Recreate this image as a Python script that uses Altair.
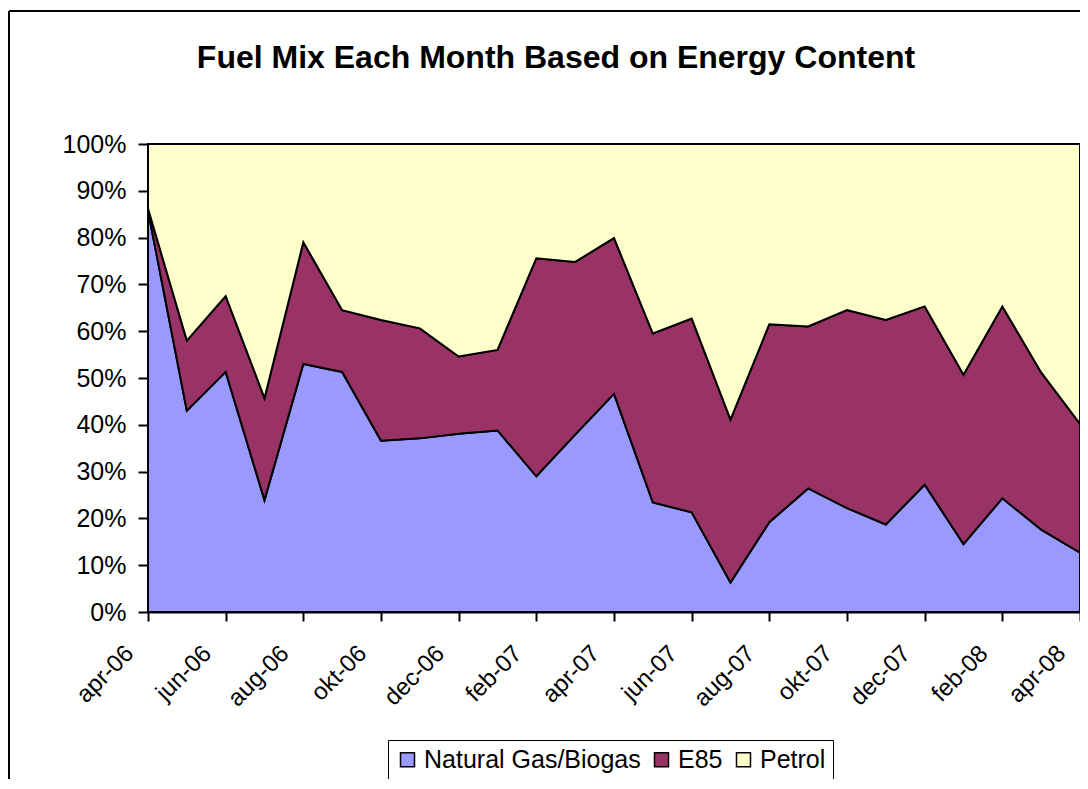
import altair as alt
import pandas as pd

months = ["apr-06", "maj-06", "jun-06", "jul-06", "aug-06", "sep-06", "okt-06", "nov-06",
          "dec-06", "jan-07", "feb-07", "mar-07", "apr-07", "maj-07", "jun-07", "jul-07",
          "aug-07", "sep-07", "okt-07", "nov-07", "dec-07", "jan-08", "feb-08", "mar-08",
          "apr-08"]
natural_gas = [85.8, 43.0, 51.3, 23.9, 53.0, 51.3, 36.6, 37.1, 38.1, 38.8, 29.0, 37.9, 46.6,
               23.4, 21.3, 6.3, 19.2, 26.4, 22.2, 18.7, 27.2, 14.5, 24.3, 17.6, 12.7]
e85 = [0.4, 15.0, 16.2, 21.8, 26.0, 13.2, 25.8, 23.5, 16.5, 17.2, 46.6, 36.9, 33.3,
       36.1, 41.4, 34.8, 42.3, 34.6, 42.3, 43.7, 38.1, 36.2, 41.0, 33.6, 27.5]
petrol = [13.8, 42.0, 32.5, 54.3, 21.0, 35.5, 37.6, 39.4, 45.4, 44.0, 24.4, 25.2, 20.1,
          40.5, 37.3, 58.9, 38.5, 39.0, 35.5, 37.6, 34.7, 49.3, 34.7, 48.8, 59.8]
series = ["Natural Gas/Biogas", "E85", "Petrol"]
colors = ["#9999FF", "#993366", "#FFFFCC"]
tick_months = months[::2]

rows = []
for i, m in enumerate(months):
    for k, (name, vals) in enumerate(zip(series, [natural_gas, e85, petrol])):
        rows.append({"month": m, "fuel": name, "share": vals[i] / 100.0, "order": k})
df = pd.DataFrame(rows)

FONT = "Liberation Sans"
W, H = 932, 468

area = alt.Chart(df).mark_area(stroke="black", strokeWidth=2, strokeJoin="miter").encode(
    x=alt.X("month:O", sort=months, scale=alt.Scale(type="point", padding=0),
            axis=alt.Axis(values=tick_months, title=None, labelAngle=-45, labelFontSize=24,
                          labelFont=FONT, labelColor="black", tickColor="black", tickSize=9,
                          tickWidth=2, domainColor="black", domainWidth=2, labelPadding=20,
                          labelOffset=-27, grid=False)),
    y=alt.Y("share:Q", stack="zero", scale=alt.Scale(domain=[0, 1], nice=False),
            axis=alt.Axis(format="%", values=[i / 10 for i in range(11)], title=None,
                          labelFontSize=25, labelFont=FONT, labelColor="black",
                          tickColor="black", tickSize=10, tickWidth=2, domainColor="black",
                          domainWidth=2, labelPadding=12, grid=False)),
    color=alt.Color("fuel:N", sort=series, scale=alt.Scale(domain=series, range=colors),
                    legend=alt.Legend(title=None, orient="none", legendX=240, legendY=596,
                                      direction="horizontal", symbolType="square",
                                      symbolSize=196, symbolStrokeColor="black",
                                      symbolStrokeWidth=1.5, labelFontSize=25, labelFont=FONT,
                                      labelColor="black", labelLimit=0, strokeColor="black",
                                      fillColor="white", padding=7, columnPadding=8,
                                      labelOffset=4)),
    order=alt.Order("order:Q"),
)

frame_left = alt.Chart(df).mark_rule(color="black", strokeWidth=2).encode(
    x=alt.value(-139), y=alt.value(-133), y2=alt.value(H + 200))
frame_top = alt.Chart(df).mark_rule(color="black", strokeWidth=2).encode(
    x=alt.value(-139), x2=alt.value(W + 20), y=alt.value(-133))

chart = alt.layer(area, frame_left, frame_top).properties(
    width=W, height=H,
    title=alt.TitleParams("Fuel Mix Each Month Based on Energy Content", font=FONT,
                          fontSize=32, fontWeight="bold", color="black", anchor="middle",
                          frame="group", dx=-58, dy=65, offset=0),
    autosize=alt.AutoSizeParams(type="none"),
    padding={"left": 140, "top": 136, "right": 0, "bottom": 167},
).configure_view(stroke=None).configure(background="white")

chart.save("out.html", embed_options={"renderer": "svg", "actions": False})
